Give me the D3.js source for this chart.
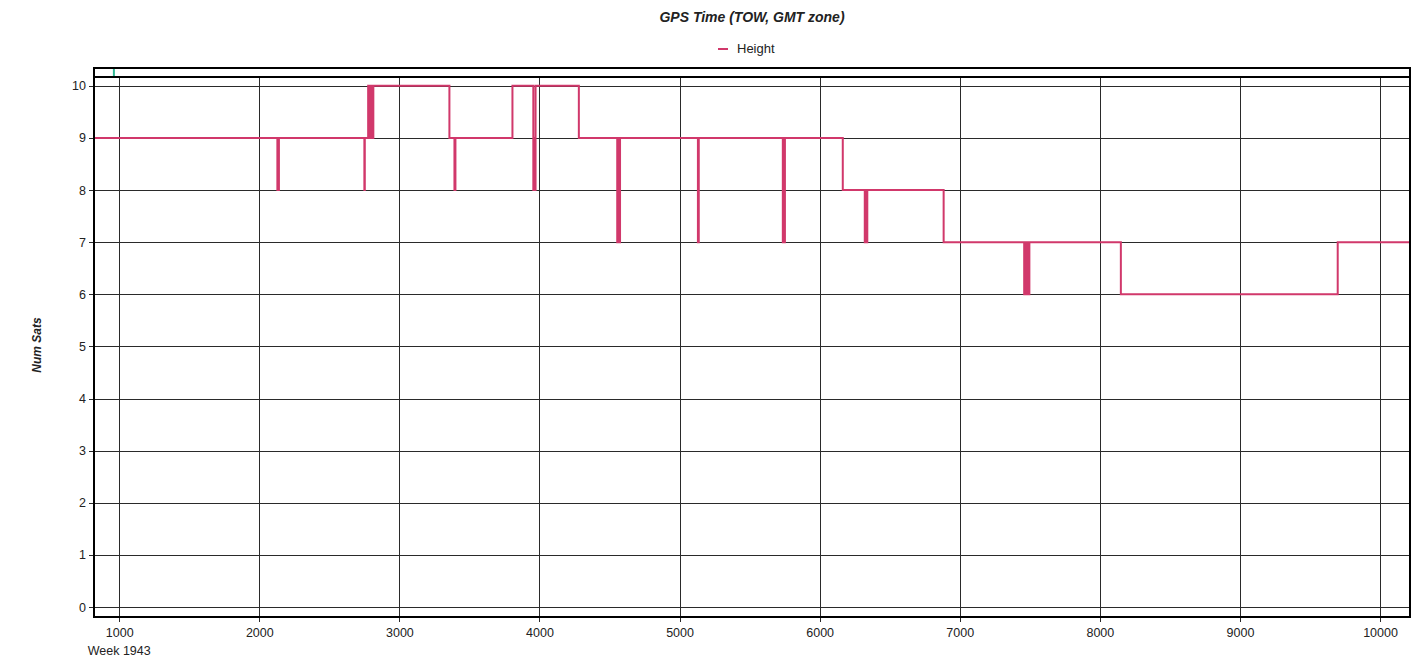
<!DOCTYPE html>
<html>
<head>
<meta charset="utf-8">
<script src="https://cdn.jsdelivr.net/npm/d3@7"></script>
<style>
  body { margin: 0; background: #fff; }
  text { font-family: Arial, "Liberation Sans", sans-serif; }
</style>
</head>
<body>
<div id="chart"></div>
<script>
// GPS time of week where the satellite count changes, and the count from that point on
const tow = [820, 2129, 2140, 2750, 2753, 2777, 2783, 2797, 2804, 2814, 3357, 3393, 3400, 3807,
    3956, 3962, 3966, 3972, 4281, 4555, 4562, 4566, 4575, 5131, 5137, 5737, 5742, 5746, 5752,
    6165, 6322, 6328, 6332, 6340, 6885, 7460, 7467, 7474, 7482, 7490, 7497, 8150, 9698, 10214];
const sats = [9, 8, 9, 8, 9, 10, 9, 10, 9, 10, 9, 8, 9, 10,
    8, 9, 8, 10, 9, 7, 9, 7, 9, 7, 9, 7, 9, 7, 9,
    8, 7, 8, 7, 8, 7, 6, 7, 6, 7, 6, 7, 6, 7, 7];
// event markers in the strip above the plot
const events = [962];

const xTicks = [1000, 2000, 3000, 4000, 5000, 6000, 7000, 8000, 9000, 10000];
const yTicks = [0, 1, 2, 3, 4, 5, 6, 7, 8, 9, 10];
const xDomain = [820, 10214];
const yDomain = [-0.19, 10.17];

const seriesName = 'Height';
const seriesColor = '#d1386b';

var svgwidth = 1420;
var svgheight = 662;
// plot box (named so they don't clash with window.top)
var pLeft = 94, pRight = 1410, pTop = 77, pBottom = 617;

var svg = d3.select('#chart')
    .append('svg')
    .attr('width', svgwidth)
    .attr('height', svgheight);

var xscale = d3.scaleLinear().domain(xDomain).range([pLeft, pRight]);
var yscale = d3.scaleLinear().domain(yDomain).range([pBottom, pTop]);

// grid + tick labels (ticks run across the whole plot)
var xaxis = svg.append('g')
    .attr('transform', 'translate(0,622)')
    .call(d3.axisBottom(xscale).tickValues(xTicks).tickFormat(d3.format('d'))
        .tickSize(-(622 - pTop)).tickPadding(6));

var yaxis = svg.append('g')
    .attr('transform', 'translate(89,0)')
    .call(d3.axisLeft(yscale).tickValues(yTicks).tickFormat(d3.format('d'))
        .tickSize(-(pRight - 89)).tickPadding(3));

[xaxis, yaxis].forEach(a => {
    a.select('.domain').remove();
    a.selectAll('.tick line').attr('stroke', '#2a2a2a').attr('shape-rendering', 'crispEdges');
    a.selectAll('.tick text').style('font-size', '12.5px').attr('fill', '#222');
});

// second line under the first x label
svg.append('text')
    .attr('x', xscale(xTicks[0]))
    .attr('y', 655)
    .attr('text-anchor', 'middle')
    .style('font-size', '12.5px')
    .attr('fill', '#222')
    .text('Week 1943');

svg.append('clipPath').attr('id', 'plotclip')
    .append('rect')
    .attr('x', pLeft).attr('y', pTop)
    .attr('width', pRight - pLeft).attr('height', pBottom - pTop);

var steps = tow.map((t, i) => ({ t: t, n: sats[i] }));

var line = d3.line()
    .x(d => xscale(d.t))
    .y(d => yscale(d.n))
    .curve(d3.curveStepAfter);

svg.append('path')
    .datum(steps)
    .attr('clip-path', 'url(#plotclip)')
    .attr('d', line)
    .attr('fill', 'none')
    .attr('stroke', seriesColor)
    .attr('stroke-width', 2);

// frame: outer box plus the line that closes off the event strip
svg.append('rect')
    .attr('x', pLeft).attr('y', 68)
    .attr('width', pRight - pLeft).attr('height', pBottom - 68)
    .attr('fill', 'none')
    .attr('stroke', '#000')
    .attr('stroke-width', 2);

svg.append('line')
    .attr('x1', pLeft).attr('x2', pRight)
    .attr('y1', pTop).attr('y2', pTop)
    .attr('stroke', '#000')
    .attr('stroke-width', 2);

svg.selectAll('.event')
    .data(events)
    .enter()
    .append('line')
    .attr('class', 'event')
    .attr('x1', d => xscale(d)).attr('x2', d => xscale(d))
    .attr('y1', 69).attr('y2', 76)
    .attr('stroke', '#2fb894')
    .attr('stroke-width', 2);

// title + legend
svg.append('text')
    .attr('x', (pLeft + pRight) / 2)
    .attr('y', 22)
    .attr('text-anchor', 'middle')
    .style('font-size', '14px')
    .style('font-weight', 'bold')
    .style('font-style', 'italic')
    .attr('fill', '#222')
    .text('GPS Time (TOW, GMT zone)');

var legend = svg.append('g').attr('transform', 'translate(718,49)');
legend.append('line')
    .attr('x1', 0).attr('x2', 10)
    .attr('stroke', seriesColor)
    .attr('stroke-width', 2);
legend.append('text')
    .attr('x', 19)
    .attr('y', 4)
    .style('font-size', '13px')
    .attr('fill', '#222')
    .text(seriesName);

svg.append('text')
    .attr('transform', 'translate(41,345) rotate(-90)')
    .attr('text-anchor', 'middle')
    .style('font-size', '12px')
    .style('font-weight', 'bold')
    .style('font-style', 'italic')
    .attr('fill', '#222')
    .text('Num Sats');
</script>
</body>
</html>
